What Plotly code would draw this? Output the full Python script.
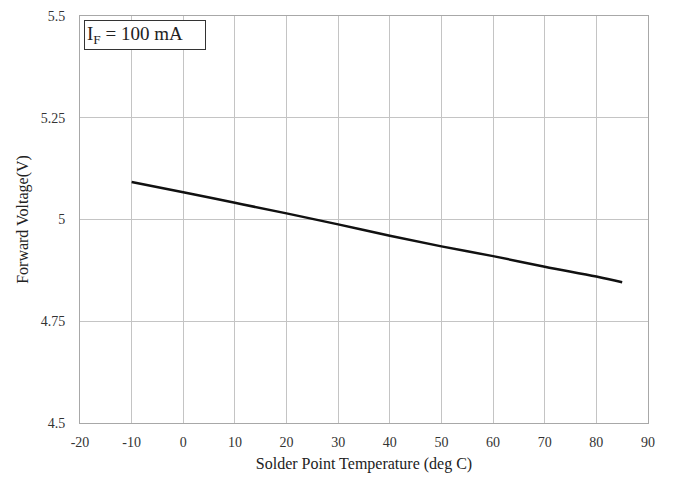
import plotly.graph_objects as go

temps = [-10, 0, 10, 20, 30, 40, 50, 60, 70, 80, 85]
vf = [5.092, 5.067, 5.041, 5.015, 4.988, 4.960, 4.934, 4.910, 4.884, 4.860, 4.846]

x_ticks = [-20, -10, 0, 10, 20, 30, 40, 50, 60, 70, 80, 90]
x_tick_text = ["-20", "-10", "0", "10", "20", "30", "40", "50", "60", "70", "80", "90"]
y_ticks = [4.5, 4.75, 5.0, 5.25, 5.5]
y_tick_text = ["4.5", "4.75", "5", "5.25", "5.5"]

FONT = "Liberation Serif, DejaVu Serif, serif"

fig = go.Figure()
fig.add_trace(go.Scatter(x=temps, y=vf, mode="lines",
                         line=dict(color="#111111", width=2.5, shape="spline"),
                         showlegend=False, hoverinfo="skip"))

fig.update_layout(
    width=673, height=478,
    margin=dict(l=80, r=25, t=16, b=55),
    paper_bgcolor="white", plot_bgcolor="white",
    font=dict(family=FONT, size=14, color="#333333"),
    xaxis=dict(range=[-20, 90], tickvals=x_ticks, ticktext=x_tick_text,
               showgrid=True, gridcolor="#c4c4c4", gridwidth=1,
               showline=True, linecolor="#a8a8a8", linewidth=1, mirror=True,
               zeroline=False, ticks="outside", ticklen=6, tickcolor="rgba(0,0,0,0)",
               tickfont=dict(family=FONT, size=14, color="#333333"),
               automargin=False,
               title=dict(text="Solder Point Temperature (deg C)",
                          font=dict(family=FONT, size=16, color="#222222"), standoff=9)),
    yaxis=dict(range=[4.5, 5.5], tickvals=y_ticks, ticktext=y_tick_text,
               showgrid=True, gridcolor="#c4c4c4", gridwidth=1,
               showline=True, linecolor="#a8a8a8", linewidth=1, mirror=True,
               zeroline=False, ticks="outside", ticklen=11, tickcolor="rgba(0,0,0,0)",
               tickfont=dict(family=FONT, size=14, color="#333333"),
               automargin=False,
               title=dict(text="Forward Voltage(V)",
                          font=dict(family=FONT, size=16, color="#222222"), standoff=8)),
)

fig.add_annotation(xref="paper", yref="paper", x=0.0, y=1.0,
                   xshift=4, yshift=-4, xanchor="left", yanchor="top",
                   text="I<sub>F</sub> = 100 mA", showarrow=False,
                   font=dict(family=FONT, size=19, color="#222222"),
                   bgcolor="white", bordercolor="#333333", borderwidth=1,
                   borderpad=2, align="left", width=116, height=24)

fig.write_html("out.html")
